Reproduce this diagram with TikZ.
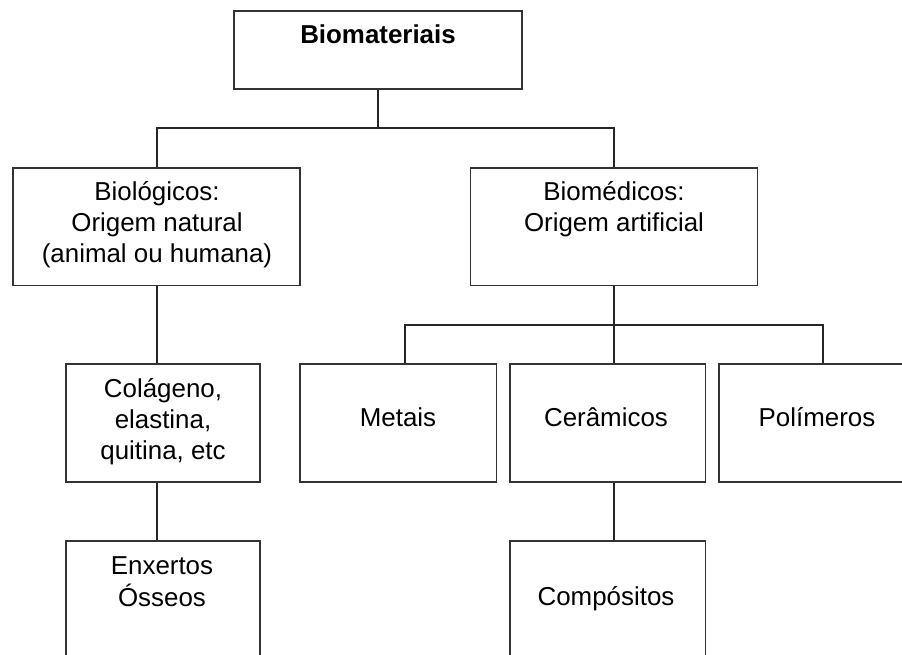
\documentclass[tikz,border=0pt]{standalone}
\usepackage{fontspec}
\setmainfont{Liberation Sans}
\begin{document}
\begin{tikzpicture}[x=1pt,y=-1pt,
  box/.style={draw=black!80, line width=1.1pt, fill=white, rectangle, inner sep=0pt},
  conn/.style={draw=black!85, line width=1.1pt},
  lbl/.style={anchor=base, inner sep=0pt, font=\fontsize{25.9}{31}\selectfont}]
\useasboundingbox (0,0) rectangle (902,655);
% boxes
\node[box, minimum width=288, minimum height=78] (top) at (378,50) {};
\node[box, minimum width=287, minimum height=117.5] (bio) at (156.5,226.75) {};
\node[box, minimum width=287, minimum height=117.5] (med) at (614,226.75) {};
\node[box, minimum width=194, minimum height=118] (col) at (163,423) {};
\node[box, minimum width=196.5, minimum height=118] (met) at (398.25,423) {};
\node[box, minimum width=195.5, minimum height=118] (cer) at (607.75,423) {};
\node[box, minimum width=196, minimum height=118] (pol) at (817,423) {};
\node[box, minimum width=194, minimum height=118] (enx) at (163,600) {};
\node[box, minimum width=195.5, minimum height=118] (cmp) at (607.75,600) {};
% texts
\node[lbl] (ttop) at (378,43.5) {\bfseries Biomateriais};
\node[lbl] (tbio) at (157,201) {\begin{tabular}[t]{@{}c@{}}Biológicos:\\Origem natural\\(animal ou humana)\end{tabular}};
\node[lbl] (tmed) at (614,201) {\begin{tabular}[t]{@{}c@{}}Biomédicos:\\Origem artificial\end{tabular}};
\node[lbl] (tcol) at (163,397) {\begin{tabular}[t]{@{}c@{}}Colágeno,\\elastina,\\quitina, etc\end{tabular}};
\node[lbl] (tmet) at (398,426) {Metais};
\node[lbl] (tcer) at (606,426) {Cerâmicos};
\node[lbl] (tpol) at (817,426) {Polímeros};
\node[lbl] (tenx) at (162,574.5) {\begin{tabular}[t]{@{}c@{}}Enxertos\\Ósseos\end{tabular}};
\node[lbl] (tcmp) at (606,605) {Compósitos};
% connectors
\coordinate (b1) at (378,128);
\coordinate (bl) at (157,128);
\coordinate (br) at (614,128);
\draw[conn] (top.south) -- (b1);
\draw[conn] (bl |- bio.north) -- (bl) -- (br) -- (br |- med.north);
\coordinate (c1) at (614,325);
\coordinate (cl) at (405,325);
\coordinate (cr) at (823,325);
\draw[conn] (med.south) -- (c1) -- (c1 |- cer.north);
\draw[conn] (cl |- met.north) -- (cl) -- (cr) -- (cr |- pol.north);
\draw[conn] (bl |- bio.south) -- (bl |- col.north);
\draw[conn] (bl |- col.south) -- (bl |- enx.north);
\draw[conn] (c1 |- cer.south) -- (c1 |- cmp.north);
\end{tikzpicture}
\end{document}
